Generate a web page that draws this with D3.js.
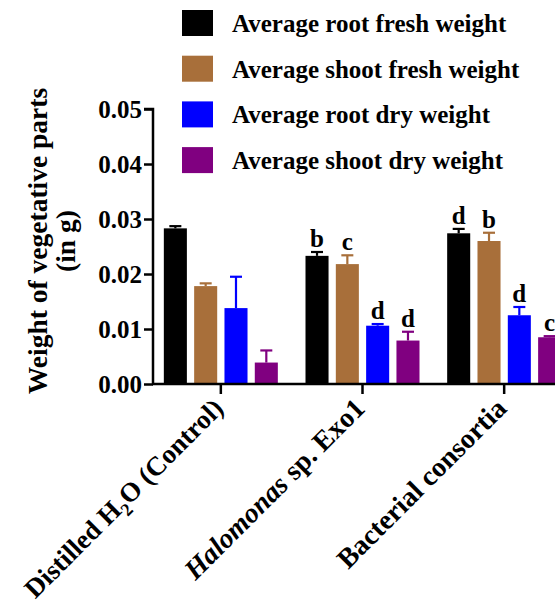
<!DOCTYPE html>
<html>
<head>
<meta charset="utf-8">
<script src="https://cdn.jsdelivr.net/npm/d3@7"></script>
<style>
  html, body { margin: 0; padding: 0; background: #fff; }
  svg { display: block; }
</style>
</head>
<body>
<svg id="chart" width="555" height="609"></svg>
<script>
// Treatments on the x axis
const categories = ["control", "halomonas", "consortia"];

// Series (legend order)
const seriesNames = [
  "Average root fresh weight",
  "Average shoot fresh weight",
  "Average root dry weight",
  "Average shoot dry weight"
];
const seriesColors = ["#000000", "#a86f3a", "#0000ff", "#800080"];

// Mean weights (g), one array per series, in category order
const rootFresh  = [0.0283, 0.0233, 0.0274];
const shootFresh = [0.0178, 0.0218, 0.0260];
const rootDry    = [0.0138, 0.0106, 0.0125];
const shootDry   = [0.0039, 0.0079, 0.0085];

// Upper error (SD) per series
const rootFreshErr  = [0.0004, 0.0007, 0.0008];
const shootFreshErr = [0.0005, 0.0016, 0.0015];
const rootDryErr    = [0.0057, 0.0003, 0.0015];
const shootDryErr   = [0.0022, 0.0016, 0.0002];

// Significance letters (blank = none)
const rootFreshSig  = ["", "b", "d"];
const shootFreshSig = ["", "c", "b"];
const rootDrySig    = ["", "d", "d"];
const shootDrySig   = ["", "d", "c"];

const yTicks = [0, 0.01, 0.02, 0.03, 0.04, 0.05];

const values = [rootFresh, shootFresh, rootDry, shootDry];
const errors = [rootFreshErr, shootFreshErr, rootDryErr, shootDryErr];
const sigs = [rootFreshSig, shootFreshSig, rootDrySig, shootDrySig];

const FONT = "'Liberation Serif', serif";

const svg = d3.select("#chart");

const x0 = d3.scaleBand().domain(categories).range([150, 575]).paddingInner(0).paddingOuter(0);
const x1 = d3.scaleBand().domain(d3.range(seriesNames.length)).range([-57, 57]).paddingInner(0.24).paddingOuter(0);
const y = d3.scaleLinear().domain([0, 0.05]).range([384, 109]);

// Bars, error bars and letters
const barData = [];
categories.forEach((c, ci) => {
  values.forEach((arr, si) => {
    barData.push({ c, si, v: arr[ci], e: errors[si][ci], s: sigs[si][ci] });
  });
});

const g = svg.append("g");
const mid = d => x0(d.c) + x0.bandwidth() / 2 + x1(d.si) + x1.bandwidth() / 2;

g.selectAll("rect.bar").data(barData).join("rect")
  .attr("class", "bar")
  .attr("x", d => mid(d) - x1.bandwidth() / 2)
  .attr("width", x1.bandwidth())
  .attr("y", d => y(d.v))
  .attr("height", d => y(0) - y(d.v))
  .attr("fill", d => seriesColors[d.si]);

const eb = g.selectAll("g.err").data(barData).join("g").attr("class", "err")
  .attr("stroke", d => seriesColors[d.si]).attr("stroke-width", 2.2);
eb.append("line")
  .attr("x1", mid).attr("x2", mid)
  .attr("y1", d => y(d.v))
  .attr("y2", d => y(d.v + d.e));
eb.append("line")
  .attr("x1", d => mid(d) - 6)
  .attr("x2", d => mid(d) + 6)
  .attr("y1", d => y(d.v + d.e))
  .attr("y2", d => y(d.v + d.e));

g.selectAll("text.sig").data(barData.filter(d => d.s)).join("text")
  .attr("class", "sig")
  .attr("x", mid)
  .attr("y", d => y(d.v + d.e) - 5)
  .attr("text-anchor", "middle")
  .style("font-family", FONT).style("font-weight", "bold").style("font-size", "25px")
  .text(d => d.s);

// Y axis
const yAxis = g.append("g").attr("transform", "translate(153,0)")
  .call(d3.axisLeft(y).tickValues(yTicks).tickFormat(d3.format(".2f")).tickSize(9).tickPadding(2));
yAxis.attr("font-family", null);
yAxis.select(".domain").attr("stroke-width", 2.5).attr("d", "M-9,109H0V384");
yAxis.selectAll(".tick line").attr("stroke-width", 2.5);
yAxis.selectAll(".tick text")
  .style("font-family", FONT).style("font-weight", "bold").style("font-size", "25px")
  .attr("dy", "0.34em");

// X axis
const xAxis = g.append("g").attr("transform", "translate(0,384)")
  .call(d3.axisBottom(x0).tickSize(10).tickFormat(""));
xAxis.select(".domain").attr("stroke-width", 2.5).attr("d", "M152,0H560");
xAxis.selectAll(".tick line").attr("stroke-width", 2.5);

// Category labels, rotated
const labels = g.append("g");
function catLabel(ci, size) {
  return labels.append("text")
    .attr("text-anchor", "end")
    .style("font-family", FONT).style("font-weight", "bold").style("font-size", size + "px")
    .attr("transform", `translate(${x0(categories[ci]) + x0.bandwidth() / 2 + 4},410) rotate(-45)`);
}
const l1 = catLabel(0, 27);
l1.append("tspan").text("Distilled H");
l1.append("tspan").text("2").style("font-size", "18px").attr("dy", 7);
l1.append("tspan").text("O (Control)").attr("dy", -7);
const l2 = catLabel(1, 28);
l2.append("tspan").text("Halomonas").style("font-style", "italic");
l2.append("tspan").text(" sp. Exo1");
catLabel(2, 28).text("Bacterial consortia");

// Y axis title
const yt = g.append("text")
  .attr("text-anchor", "middle")
  .style("font-family", FONT).style("font-weight", "bold").style("font-size", "27.5px")
  .attr("transform", "translate(47,241) rotate(-90)");
yt.append("tspan").attr("x", 0).attr("y", 0).text("Weight of vegetative parts");
yt.append("tspan").attr("x", 0).attr("y", 28).text("(in g)");

// Legend
const legend = g.append("g").attr("transform", "translate(182,10)");
const items = legend.selectAll("g").data(seriesNames).join("g")
  .attr("transform", (d, i) => `translate(0,${i * 45.7})`);
items.append("rect").attr("width", 31).attr("height", 26).attr("fill", (d, i) => seriesColors[i]);
items.append("text").attr("x", 50).attr("y", 22)
  .style("font-family", FONT).style("font-weight", "bold").style("font-size", "25px")
  .text(d => d);
</script>
</body>
</html>
